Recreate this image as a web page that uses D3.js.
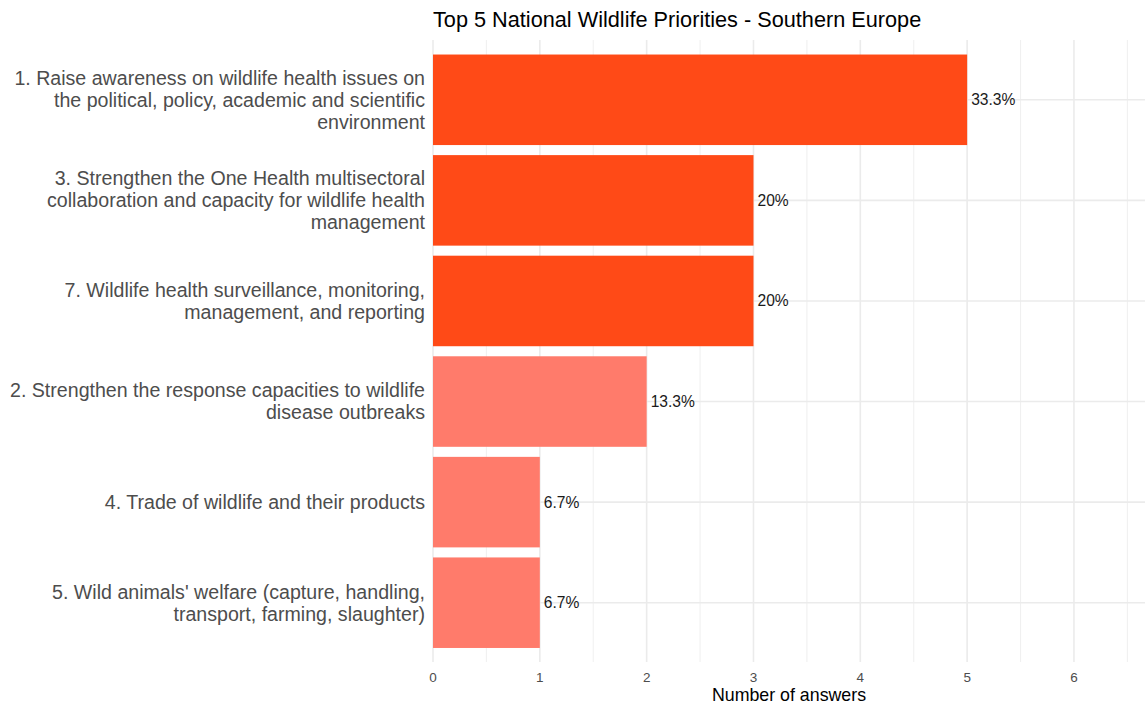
<!DOCTYPE html>
<html><head><meta charset="utf-8">
<script src="https://cdn.jsdelivr.net/npm/d3@7"></script>
<style>body{margin:0;background:#fff;} text{font-family:"Liberation Sans",Arial,sans-serif;}</style>
</head><body>
<svg id="c" width="1145" height="704"></svg>
<script>
const categories = [
  ["1. Raise awareness on wildlife health issues on","the political, policy, academic and scientific","environment"],
  ["3. Strengthen the One Health multisectoral","collaboration and capacity for wildlife health","management"],
  ["7. Wildlife health surveillance, monitoring,","management, and reporting"],
  ["2. Strengthen the response capacities to wildlife","disease outbreaks"],
  ["4. Trade of wildlife and their products"],
  ["5. Wild animals' welfare (capture, handling,","transport, farming, slaughter)"]
];
const counts = [5, 3, 3, 2, 1, 1];
const pctLabels = ["33.3%", "20%", "20%", "13.3%", "6.7%", "6.7%"];
const topGroup = [true, true, true, false, false, false];
const xTicks = [0, 1, 2, 3, 4, 5, 6];
const title = "Top 5 National Wildlife Priorities - Southern Europe";
const xTitle = "Number of answers";

(function(){
const svg = d3.select("#c");
const pL = 433, pR = 1145, pT = 40, pB = 662;
const x = d3.scaleLinear().domain([0, 6.665]).range([pL, pR]);
const y = d3.scaleBand().domain(d3.range(categories.length)).range([49.5, 653]).paddingInner(0.1).paddingOuter(0.05);

const minor = d3.range(0.5, 6.7, 1);
svg.append("g").selectAll("line").data(minor).join("line")
  .attr("x1", d => x(d)).attr("x2", d => x(d)).attr("y1", pT).attr("y2", pB)
  .attr("stroke", "#ebebeb").attr("stroke-width", 0.8);
svg.append("g").selectAll("line").data(xTicks).join("line")
  .attr("x1", d => x(d)).attr("x2", d => x(d)).attr("y1", pT).attr("y2", pB)
  .attr("stroke", "#ebebeb").attr("stroke-width", 1.6);
svg.append("g").selectAll("line").data(d3.range(categories.length)).join("line")
  .attr("x1", pL).attr("x2", pR).attr("y1", d => y(d) + y.bandwidth()/2).attr("y2", d => y(d) + y.bandwidth()/2)
  .attr("stroke", "#ebebeb").attr("stroke-width", 1.6);

svg.append("g").selectAll("rect").data(counts).join("rect")
  .attr("x", x(0)).attr("y", (d, i) => y(i)).attr("width", d => x(d) - x(0)).attr("height", y.bandwidth())
  .attr("fill", (d, i) => topGroup[i] ? "#FF4A17" : "#FF7B6B");

svg.append("g").selectAll("text").data(counts).join("text")
  .attr("x", d => x(d) + 4).attr("y", (d, i) => y(i) + y.bandwidth()/2).attr("dy", "0.35em")
  .attr("font-size", 15.6).attr("fill", "#1a1a1a").text((d, i) => pctLabels[i]);

const lh = 22;
categories.forEach((lines, i) => {
  const cy = y(i) + y.bandwidth()/2;
  const t = svg.append("text").attr("text-anchor", "end").attr("font-size", 19.6).attr("fill", "#4d4d4d");
  lines.forEach((ln, j) => {
    t.append("tspan").attr("x", 425).attr("y", cy + (j - (lines.length - 1)/2) * lh).attr("dy", "0.35em").text(ln);
  });
});

svg.append("g").selectAll("text").data(xTicks).join("text")
  .attr("x", d => x(d)).attr("y", 677).attr("dy", "0.35em").attr("text-anchor", "middle")
  .attr("font-size", 13.5).attr("fill", "#4d4d4d").text(d => d);

svg.append("text").attr("x", (pL + pR)/2).attr("y", 695).attr("dy", "0.35em").attr("text-anchor", "middle")
  .attr("font-size", 17.8).attr("fill", "#000").text(xTitle);

svg.append("text").attr("x", pL).attr("y", 19).attr("dy", "0.35em")
  .attr("font-size", 21.7).attr("fill", "#000").text(title);
})();
</script>
</body></html>
